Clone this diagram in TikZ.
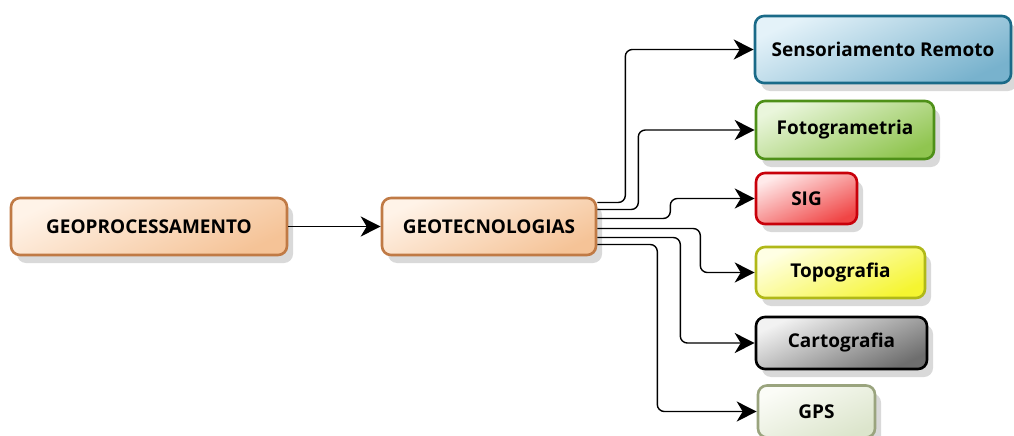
\documentclass[tikz,border=0pt]{standalone}
\usepackage{fontspec}
\setmainfont{Open Sans}
\usetikzlibrary{shadows,arrows.meta}
\definecolor{geoB}{HTML}{C07A45}\definecolor{geoT}{HTML}{FFF3E8}\definecolor{geoD}{HTML}{F5C397}
\definecolor{srB}{HTML}{1A6A88}\definecolor{srT}{HTML}{E4F2F9}\definecolor{srD}{HTML}{78B2CD}
\definecolor{foB}{HTML}{4E9018}\definecolor{foT}{HTML}{EAF6DC}\definecolor{foD}{HTML}{90C550}
\definecolor{siB}{HTML}{C8000A}\definecolor{siT}{HTML}{FFEAEA}\definecolor{siD}{HTML}{F04545}
\definecolor{toB}{HTML}{B0B818}\definecolor{toT}{HTML}{FFFFE4}\definecolor{toD}{HTML}{F5F530}
\definecolor{caB}{HTML}{000000}\definecolor{caT}{HTML}{F2F2F2}\definecolor{caD}{HTML}{6E6E6E}
\definecolor{gpB}{HTML}{9AA47E}\definecolor{gpT}{HTML}{FBFCF7}\definecolor{gpD}{HTML}{DCE5CC}
\tikzset{
  box/.style n args={3}{draw=#1, line width=2.6pt, rounded corners=9pt,
    top color=#2, bottom color=#3, shading angle=25,
    font=\bfseries\fontsize{19}{22}\selectfont, text=black, inner sep=0pt,
    drop shadow={shadow xshift=6pt, shadow yshift=-8pt, opacity=0.15, fill=black}},
  conn/.style={line width=1.4pt, rounded corners=7pt, -{Stealth[length=20pt,width=20pt,inset=6pt]}},
  arr/.style={line width=1.4pt, -{Stealth[length=20pt,width=20pt,inset=6pt]}}
}
\begin{document}
\begin{tikzpicture}[x=1pt,y=-1pt]
\useasboundingbox (0,0) rectangle (1014,436);
\clip (0,0) rectangle (1014,436);
\node[box={geoB}{geoT}{geoD}, minimum width=276pt, minimum height=57pt] (g1) at (149,226.5) {GEOPROCESSAMENTO};
\node[box={geoB}{geoT}{geoD}, minimum width=214pt, minimum height=57pt] (g2) at (489,226.5) {GEOTECNOLOGIAS};
\node[box={srB}{srT}{srD}, minimum width=256pt, minimum height=67pt] (sr) at (883,49.5) {Sensoriamento Remoto};
\node[box={foB}{foT}{foD}, minimum width=178pt, minimum height=58pt] (fo) at (845,130) {Fotogrametria};
\node[box={siB}{siT}{siD}, minimum width=101pt, minimum height=51pt] (si) at (806.5,198.5) {SIG};
\node[box={toB}{toT}{toD}, minimum width=169pt, minimum height=51pt] (to) at (840.5,272.5) {Topografia};
\node[box={caB}{caT}{caD}, minimum width=171pt, minimum height=52pt] (ca) at (841.5,343) {Cartografia};
\node[box={gpB}{gpT}{gpD}, minimum width=117pt, minimum height=52pt] (gp) at (816.5,411.5) {GPS};
\draw[arr] (g1.east) -- (g2.west);
\draw[conn] ([yshift=24pt]g2.east) -- ++(28pt,0pt) |- (sr.west);
\draw[conn] ([yshift=17pt]g2.east) -- ++(41pt,0pt) |- (fo.west);
\draw[conn] ([yshift=8pt]g2.east) -- ++(73pt,0pt) |- (si.west);
\draw[conn] ([yshift=-2pt]g2.east) -- ++(103pt,0pt) |- (to.west);
\draw[conn] ([yshift=-11pt]g2.east) -- ++(83pt,0pt) |- (ca.west);
\draw[conn] ([yshift=-18pt]g2.east) -- ++(60pt,0pt) |- (gp.west);
\end{tikzpicture}
\end{document}
